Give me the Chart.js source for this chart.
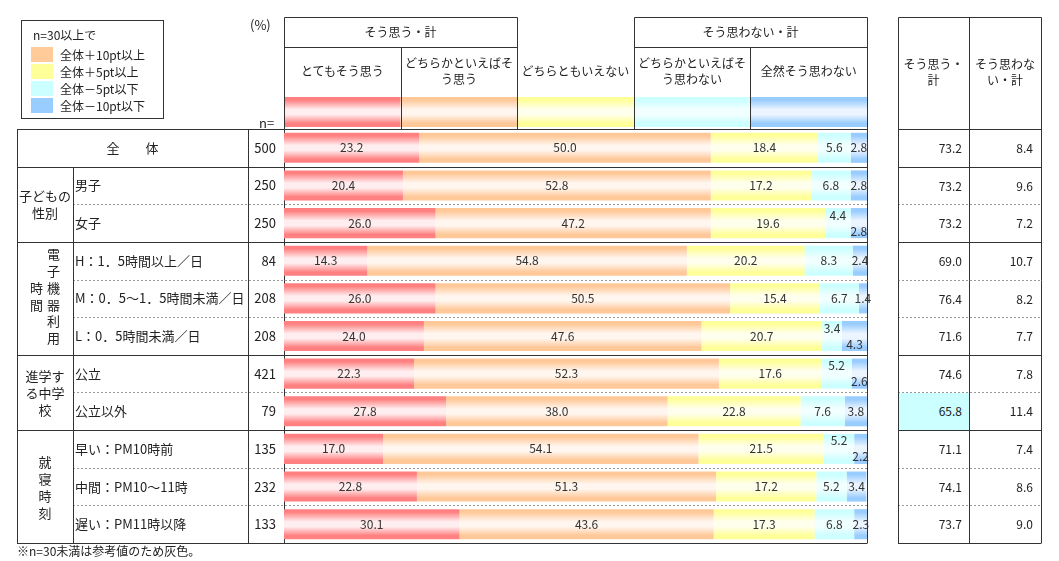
<!DOCTYPE html>
<html lang="ja">
<head>
<meta charset="utf-8">
<title>そう思う・そう思わない</title>
<script src="https://cdn.jsdelivr.net/npm/chart.js@4.4.1/dist/chart.umd.min.js"></script>
<style>
  body { margin: 0; background: #fff; }
  #wrap { position: relative; width: 1059px; height: 561px; overflow: hidden;
          font-family: "Noto Sans CJK JP", "Noto Sans", sans-serif; color: #222; }
  #wrap canvas { position: absolute; left: 0; top: 0; }
  .t { position: absolute; white-space: nowrap; font-size: 12px; line-height: 16px; }
  .cell { position: absolute; display: flex; align-items: center; justify-content: center;
          text-align: center; font-size: 12px; line-height: 16px; }
</style>
</head>
<body>
<div id="wrap"><canvas id="chart" width="1059" height="561"></canvas></div>
<script>
// rows of the table
const rowLabels = [
  "全体", "男子", "女子",
  "H：1．5時間以上／日", "M：0．5～1．5時間未満／日", "L：0．5時間未満／日",
  "公立", "公立以外",
  "早い：PM10時前", "中間：PM10～11時", "遅い：PM11時以降"
];
const nValues = [500, 250, 250, 84, 208, 208, 421, 79, 135, 232, 133];

// percentages, one array per answer
const veryAgree      = [23.2, 20.4, 26.0, 14.3, 26.0, 24.0, 22.3, 27.8, 17.0, 22.8, 30.1];
const ratherAgree    = [50.0, 52.8, 47.2, 54.8, 50.5, 47.6, 52.3, 38.0, 54.1, 51.3, 43.6];
const neither        = [18.4, 17.2, 19.6, 20.2, 15.4, 20.7, 17.6, 22.8, 21.5, 17.2, 17.3];
const ratherDisagree = [5.6, 6.8, 4.4, 8.3, 6.7, 3.4, 5.2, 7.6, 5.2, 5.2, 6.8];
const notAtAll       = [2.8, 2.8, 2.8, 2.4, 1.4, 4.3, 2.6, 3.8, 2.2, 3.4, 2.3];

// right-hand summary columns
const agreeTotal    = [73.2, 73.2, 73.2, 69.0, 76.4, 71.6, 74.6, 65.8, 71.1, 74.1, 73.7];
const disagreeTotal = [8.4, 9.6, 7.2, 10.7, 8.2, 7.7, 7.8, 11.4, 7.4, 8.6, 9.0];

const seriesNames = ["とてもそう思う", "どちらかといえばそ<br>う思う", "どちらともいえない",
                     "どちらかといえばそ<br>う思わない", "全然そう思わない"];

const groups = [
  { first: 0, last: 0,  name: ["全　　体"], wide: true },
  { first: 1, last: 2,  name: ["子どもの", "性別"] },
  { first: 3, last: 5,  name: ["電子機器利用", "時間"], vertical: true },
  { first: 6, last: 7,  name: ["進学す", "る中学", "校"] },
  { first: 8, last: 10, name: ["就", "寝", "時", "刻"] }
];

const edgeColors = ["#ff8080", "#ffc898", "#ffff99", "#ccffff", "#99ccff"];
const midColors  = ["#ffeef0", "#fff6ef", "#ffffee", "#f2ffff", "#ecf5ff"];
const markColors = { up10: "#ffcc99", up5: "#ffff99", down5: "#ccffff", down10: "#99ccff" };

const FONT = '"Noto Sans CJK JP", "Noto Sans", sans-serif';
const BAR_PCT = 0.8;

function makeGradient(ctx, i, top, bottom) {
  const g = ctx.createLinearGradient(0, top, 0, bottom);
  g.addColorStop(0, edgeColors[i]);
  g.addColorStop(0.1, edgeColors[i]);
  g.addColorStop(0.42, midColors[i]);
  g.addColorStop(0.58, midColors[i]);
  g.addColorStop(0.88, edgeColors[i]);
  g.addColorStop(1, edgeColors[i]);
  return g;
}

function barFill(i) {
  return (c) => {
    const chart = c.chart;
    const area = chart.chartArea;
    if (!area || c.type !== "data") return edgeColors[i];
    const band = (area.bottom - area.top) / rowLabels.length;
    const yc = chart.scales.y.getPixelForValue(c.dataIndex);
    const h = band * BAR_PCT;
    return makeGradient(chart.ctx, i, yc - h / 2, yc + h / 2);
  };
}

// table rules, header swatches
const tableLines = {
  id: "tableLines",
  beforeDatasetsDraw(chart) {
    const { ctx, chartArea: a, scales: { x } } = chart;
    const band = (a.bottom - a.top) / rowLabels.length;
    const starts = new Set(groups.map(g => g.first).concat([rowLabels.length]));
    const L = 17, C1 = 73, C2 = 248, R1 = 898, R2 = 969, R3 = 1041, TOP = 17, MID = 47;
    const line = (x1, y1, x2, y2) => { ctx.beginPath(); ctx.moveTo(x1, y1); ctx.lineTo(x2, y2); ctx.stroke(); };

    ctx.save();
    // header swatches
    for (let j = 0; j < 5; j++) {
      const x0 = x.getPixelForValue(j * 20), x1 = x.getPixelForValue(j * 20 + 20);
      ctx.fillStyle = makeGradient(ctx, j, a.top - 32, a.top - 2);
      ctx.fillRect(x0, a.top - 32, x1 - x0, 30);
    }

    // horizontal rows
    for (let k = 0; k <= rowLabels.length; k++) {
      const y = Math.round(a.top + k * band) + 0.5;
      if (starts.has(k)) {
        ctx.setLineDash([]); ctx.strokeStyle = "#333"; ctx.lineWidth = 1;
        line(L, y, a.right, y);
        line(R1, y, R3, y);
      } else {
        ctx.setLineDash([2, 2]); ctx.strokeStyle = "#999"; ctx.lineWidth = 1;
        line(C1, y, a.right, y);
        line(R1, y, R3, y);
      }
    }
    ctx.setLineDash([]); ctx.strokeStyle = "#333";
    const px = v => Math.round(v) + 0.5;
    const yBot = px(a.bottom);
    line(px(L), px(a.top), px(L), yBot);
    line(px(C1), px(a.top + band), px(C1), yBot);
    line(px(C2), px(a.top), px(C2), yBot);
    line(px(a.left), px(TOP), px(a.left), yBot);
    line(px(a.right), px(TOP), px(a.right), yBot);
    // header boxes
    const xs = [0, 20, 40, 60, 80, 100].map(v => px(x.getPixelForValue(v)));
    line(xs[0], px(TOP), xs[2], px(TOP));
    line(xs[3], px(TOP), xs[5], px(TOP));
    line(xs[0], px(MID), xs[2], px(MID));
    line(xs[3], px(MID), xs[5], px(MID));
    line(xs[1], px(MID), xs[1], px(a.top));
    line(xs[4], px(MID), xs[4], px(a.top));
    line(xs[2], px(TOP), xs[2], px(a.top));
    line(xs[3], px(TOP), xs[3], px(a.top));
    // right table
    line(px(R1), px(TOP), px(R3), px(TOP));
    [R1, R2, R3].forEach(v => line(px(v), px(TOP), px(v), yBot));
    ctx.restore();
  }
};

// numbers inside the bars
const valueLabels = {
  id: "valueLabels",
  afterDatasetsDraw(chart) {
    const ctx = chart.ctx;
    ctx.save();
    ctx.font = "12px " + FONT;
    ctx.fillStyle = "#333";
    ctx.textAlign = "center";
    ctx.textBaseline = "middle";
    chart.data.datasets.forEach((ds, di) => {
      chart.getDatasetMeta(di).data.forEach((bar, i) => {
        const tight = ratherDisagree[i] < 6 && ratherDisagree[i] + notAtAll[i] < 8;
        let dy = 0;
        if (tight && di === 3) dy = -8;
        if (tight && di === 4) dy = 8;
        ctx.fillText(ds.data[i].toFixed(1), (bar.x + bar.base) / 2, bar.y + dy);
      });
    });
    ctx.restore();
  }
};

const seriesData = [veryAgree, ratherAgree, neither, ratherDisagree, notAtAll];

const chart = new Chart(document.getElementById("chart"), {
  type: "bar",
  data: {
    labels: rowLabels,
    datasets: seriesData.map((d, i) => ({
      label: seriesNames[i].replace("<br>", ""),
      data: d,
      backgroundColor: barFill(i),
      borderWidth: 0,
      barPercentage: BAR_PCT,
      categoryPercentage: 1
    }))
  },
  options: {
    indexAxis: "y",
    responsive: false,
    animation: false,
    layout: { padding: { left: 284, right: 192, top: 129, bottom: 18 } },
    scales: {
      x: { stacked: true, min: 0, max: 100, display: false },
      y: { stacked: true, display: false }
    },
    plugins: { legend: { display: false }, tooltip: { enabled: false } }
  },
  plugins: [tableLines, valueLabels]
});

// html text placed on the chart's scales
const wrap = document.getElementById("wrap");
function put(html, style, cls) {
  const d = document.createElement("div");
  d.className = cls || "t";
  d.innerHTML = html;
  Object.assign(d.style, style);
  wrap.appendChild(d);
  return d;
}
const px = v => v + "px";
const a = chart.chartArea;
const yS = chart.scales.y, xS = chart.scales.x;
const band = (a.bottom - a.top) / rowLabels.length;

// legend box
put("", { left: "21px", top: "20px", width: "141px", height: "97px", border: "1px solid #333" });
put("n=30以上で", { left: "33px", top: "27px" });
[["up10", "全体＋10pt以上"], ["up5", "全体＋5pt以上"], ["down5", "全体－5pt以下"], ["down10", "全体－10pt以下"]]
  .forEach(([k, txt], j) => {
    const top = 47 + j * 17;
    put("", { left: "31px", top: px(top), width: "22px", height: "15px", background: markColors[k] });
    put(txt, { left: "60px", top: px(top) });
  });
put("(%)", { left: "250px", top: "17px", fontSize: "13px" });
put("n=", { left: "259px", top: "115px", fontSize: "13px" });

// bar header
const cx = v => xS.getPixelForValue(v);
put("そう思う・計", { left: px(cx(0)), top: "17px", width: px(cx(40) - cx(0)), height: "30px" }, "cell");
put("そう思わない・計", { left: px(cx(60)), top: "17px", width: px(cx(100) - cx(60)), height: "30px" }, "cell");
seriesNames.forEach((s, j) => {
  put(s, { left: px(cx(j * 20)), top: "47px", width: px(cx(j * 20 + 20) - cx(j * 20)), height: "48px" }, "cell");
});

// right table header
put("そう思う・<br>計", { left: "898px", top: "17px", width: "71px", height: "110px" }, "cell");
put("そう思わな<br>い・計", { left: "969px", top: "17px", width: "72px", height: "110px" }, "cell");

// group labels
groups.forEach(g => {
  const top = a.top + g.first * band;
  const h = (g.last - g.first + 1) * band;
  if (g.wide) {
    put(g.name[0], { left: "17px", top: px(top), width: "231px", height: px(h), fontSize: "13px" }, "cell");
  } else if (g.vertical) {
    const colH = g.name[0].length * 16.7;
    put(g.name.join("<br>"), {
      left: "26px", top: px(top + (h - colH) / 2 - 1), height: px(colH + 2), width: "36px",
      writingMode: "vertical-rl", textAlign: "center", lineHeight: "17px",
      letterSpacing: "3.7px", fontSize: "13px"
    });
  } else {
    put(g.name.join("<br>"), { left: "17px", top: px(top), width: "56px", height: px(h), fontSize: "13px", lineHeight: "17px" }, "cell");
  }
});

// row labels, n, totals
const total = agreeTotal[0], totalNo = disagreeTotal[0];
function mark(v, base, n) {
  if (n < 30) return "";
  const d = Math.round((v - base) * 10) / 10;
  if (d >= 10) return markColors.up10;
  if (d >= 5) return markColors.up5;
  if (d <= -10) return markColors.down10;
  if (d <= -5) return markColors.down5;
  return "";
}
rowLabels.forEach((lab, i) => {
  const yc = yS.getPixelForValue(i);
  if (i > 0) put(lab, { left: "75px", top: px(yc - 9), fontSize: "13px", lineHeight: "18px" });
  put(String(nValues[i]), { left: "248px", top: px(yc - 9), width: "28px", textAlign: "right", fontSize: "13px", lineHeight: "18px" });
  const top = a.top + i * band;
  put(agreeTotal[i].toFixed(1), {
    left: "899px", top: px(top + 1), width: "63px", height: px(band - 1), lineHeight: px(band - 1),
    textAlign: "right", paddingRight: "7px", background: mark(agreeTotal[i], total, nValues[i])
  });
  put(disagreeTotal[i].toFixed(1), {
    left: "970px", top: px(top + 1), width: "63px", height: px(band - 1), lineHeight: px(band - 1),
    textAlign: "right", paddingRight: "8px", background: mark(disagreeTotal[i], totalNo, nValues[i])
  });
});

put("※n=30未満は参考値のため灰色。", { left: "17px", top: "543px", fontSize: "12px" });
</script>
</body>
</html>
